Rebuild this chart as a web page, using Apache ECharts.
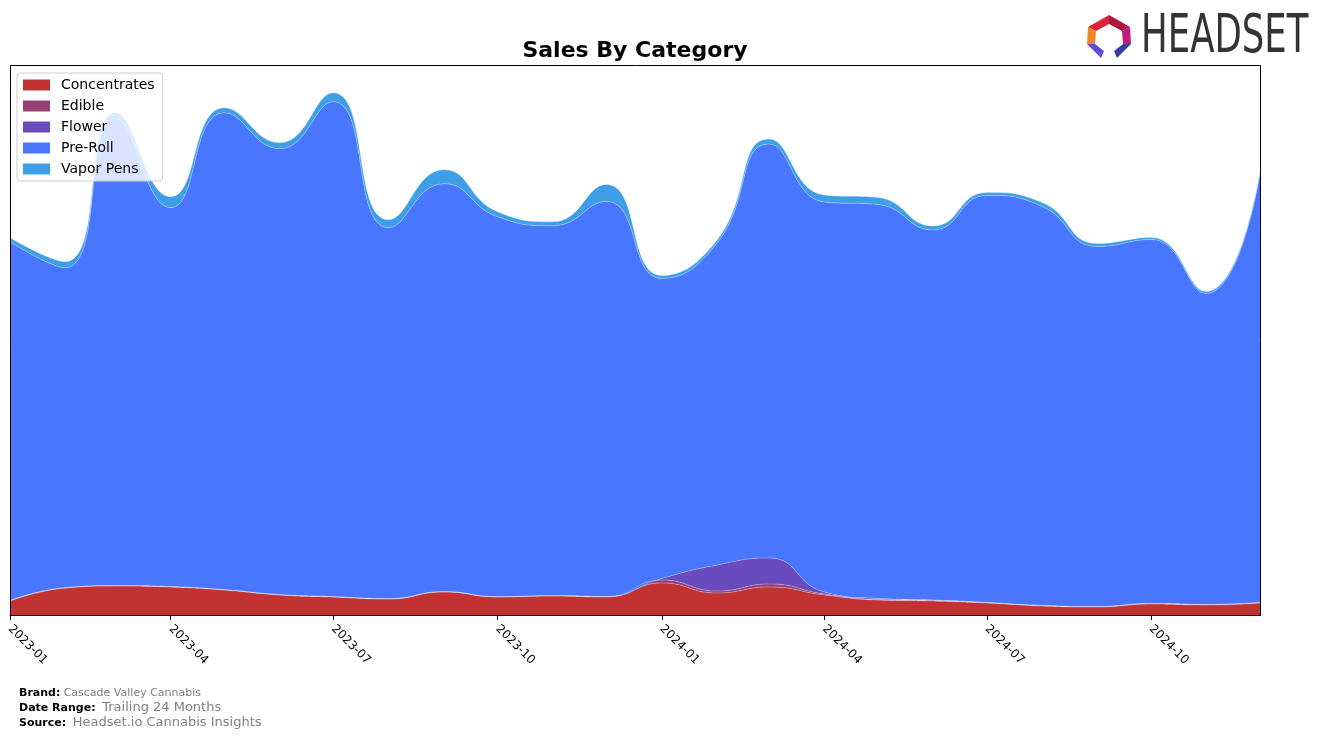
<!DOCTYPE html>
<html><head><meta charset="utf-8">
<script src="https://cdn.jsdelivr.net/npm/echarts@6/dist/echarts.min.js"></script>
<style>html,body{margin:0;padding:0;background:#fff}#c{width:1324px;height:740px}</style>
</head><body><div id="c"></div>
<script>
const months = ['2023-01-01','2023-02-01','2023-03-01','2023-04-01','2023-05-01','2023-06-01','2023-07-01','2023-08-01','2023-09-01','2023-10-01','2023-11-01','2023-12-01',
                '2024-01-01','2024-02-01','2024-03-01','2024-04-01','2024-05-01','2024-06-01','2024-07-01','2024-08-01','2024-09-01','2024-10-01','2024-11-01','2024-12-01'];
const tickLabels = ['2023-01','2023-04','2023-07','2023-10','2024-01','2024-04','2024-07','2024-10'];
const concentrates = [14,27,29,28,25,20,18,16,23,18,19,18,32,22,28,20,15,14,12,9,8,11,10,12];
const edible       = [0.3,0.3,0.3,0.3,0.3,0.3,0.3,0.3,0.3,0.3,0.3,0.3,3,2,3,1,0.5,0.5,0.5,0.5,0.5,0.5,0.5,0.5];
const flower       = [0,0,0,0,0,0,0,0,0,0,0,0.3,1.5,26,26,2,1,0.5,0,0,0,0,0,0];
const preRoll      = [359,320,467,379,477,446,495,371,408,380,370,395,300,322,414,390,394,370,407,399,360,364,311,429];
const vaporPens    = [4,6,6,11,5,6,9,8,14,5,4,17,3,3,5,7,7,4,3,4,3,2,2,2];

const seriesDefs = [
  {name:'Concentrates', data:concentrates, color:'#c23232'},
  {name:'Edible', data:edible, color:'#983f78'},
  {name:'Flower', data:flower, color:'#6a4bbd'},
  {name:'Pre-Roll', data:preRoll, color:'#4876ff'},
  {name:'Vapor Pens', data:vaporPens, color:'#3e9fe8'}
];

function ts(s){const p=s.split('-').map(Number);return Date.UTC(p[0],p[1]-1,p[2]||1);}
const tickValues = tickLabels.map(ts);

const chart = echarts.init(document.getElementById('c'), null, {renderer:'canvas'});
const FONT = 'DejaVu Sans';

function fmt(v){const d=new Date(v);return d.getUTCFullYear()+'-'+String(d.getUTCMonth()+1).padStart(2,'0');}

const xMin = ts(months[0]), xMax = ts(months[months.length-1]);

const option = {
  animation:false,
  backgroundColor:'#fff',
  grid:{left:10, top:65, width:1250, height:550, containLabel:false},
  legend:{
    orient:'vertical', left:17, top:73,
    padding:[5,8,5,6],
    itemWidth:27, itemHeight:11, itemGap:7,
    backgroundColor:'rgba(255,255,255,0.8)',
    borderColor:'#cccccc', borderWidth:1, borderRadius:3,
    icon:'rect',
    textStyle:{fontFamily:FONT, fontSize:14, color:'#000', lineHeight:14, padding:[0,0,0,6]},
    data:seriesDefs.map(s=>({name:s.name, itemStyle:{color:s.color, opacity:1}})),
    z:20
  },
  xAxis:[{
    type:'time', min:xMin, max:xMax,
    axisLine:{show:false}, axisTick:{show:false}, axisLabel:{show:false}, splitLine:{show:false}
  },{
    type:'value', min:xMin, max:xMax, position:'bottom',
    axisLine:{show:true, lineStyle:{color:'#000', width:1}},
    axisTick:{show:true, length:5, lineStyle:{color:'#000', width:1}, customValues:tickValues},
    splitLine:{show:false},
    axisLabel:{rotate:-45, margin:12, fontFamily:FONT, fontSize:12, color:'#000',
      formatter:fmt, customValues:tickValues, hideOverlap:false}
  }],
  yAxis:{type:'value', min:0, max:550, show:false},
  series:seriesDefs.map(s=>({
    name:s.name, type:'line', stack:'total', smooth:0.5, symbol:'none',
    xAxisIndex:0,
    color:s.color,
    lineStyle:{width:0.8, color:'rgba(255,255,255,0.35)'},
    areaStyle:{color:s.color, opacity:1},
    data:months.map((m,i)=>[ts(m), s.data[i]])
  })),
  graphic:[
    {type:'rect', z:100, silent:true, shape:{x:10.5, y:65.5, width:1250, height:550},
     style:{fill:null, stroke:'#000', lineWidth:1}},
    {type:'text', z:100, x:635, y:51, style:{text:'Sales By Category', font:'bold 22px "DejaVu Sans"', fill:'#000', textAlign:'center', textVerticalAlign:'middle'}},
    {type:'polygon', z:100, shape:{points:[[1088,27],[1109,15],[1109,24],[1096,31]]}, style:{fill:'#dc2338'}},
    {type:'polygon', z:100, shape:{points:[[1109,15],[1130,27],[1122,31],[1109,24]]}, style:{fill:'#a8193c'}},
    {type:'polygon', z:100, shape:{points:[[1130,27],[1131,44],[1123,44],[1122,31]]}, style:{fill:'#c21a7e'}},
    {type:'polygon', z:100, shape:{points:[[1088,27],[1096,31],[1095,44],[1087,44]]}, style:{fill:'#f28526'}},
    {type:'polygon', z:100, shape:{points:[[1087,44],[1095,44],[1104,51],[1101,58]]}, style:{fill:'#5a4fd0'}},
    {type:'polygon', z:100, shape:{points:[[1123,44],[1131,44],[1117,58],[1114,51]]}, style:{fill:'#3a3aa8'}},
    {type:'text', z:100, x:1141, y:38, scaleX:0.67, style:{text:'HEADSET', font:'53px "DejaVu Sans"', fill:'#333333', textAlign:'left', textVerticalAlign:'middle'}},
    {type:'text', z:100, x:19, y:693, style:{text:'{b|Brand:} {v|Cascade Valley Cannabis}', textVerticalAlign:'middle',
      rich:{b:{font:'bold 11px "DejaVu Sans"', fill:'#000'}, v:{font:'11px "DejaVu Sans"', fill:'#808080'}}}},
    {type:'text', z:100, x:19, y:708, style:{text:'{b|Date Range:}  {v|Trailing 24 Months}', textVerticalAlign:'middle',
      rich:{b:{font:'bold 11px "DejaVu Sans"', fill:'#000'}, v:{font:'13px "DejaVu Sans"', fill:'#808080'}}}},
    {type:'text', z:100, x:19, y:723, style:{text:'{b|Source:}  {v|Headset.io Cannabis Insights}', textVerticalAlign:'middle',
      rich:{b:{font:'bold 11px "DejaVu Sans"', fill:'#000'}, v:{font:'13px "DejaVu Sans"', fill:'#808080'}}}}
  ]
};
chart.setOption(option);
</script>
</body></html>
